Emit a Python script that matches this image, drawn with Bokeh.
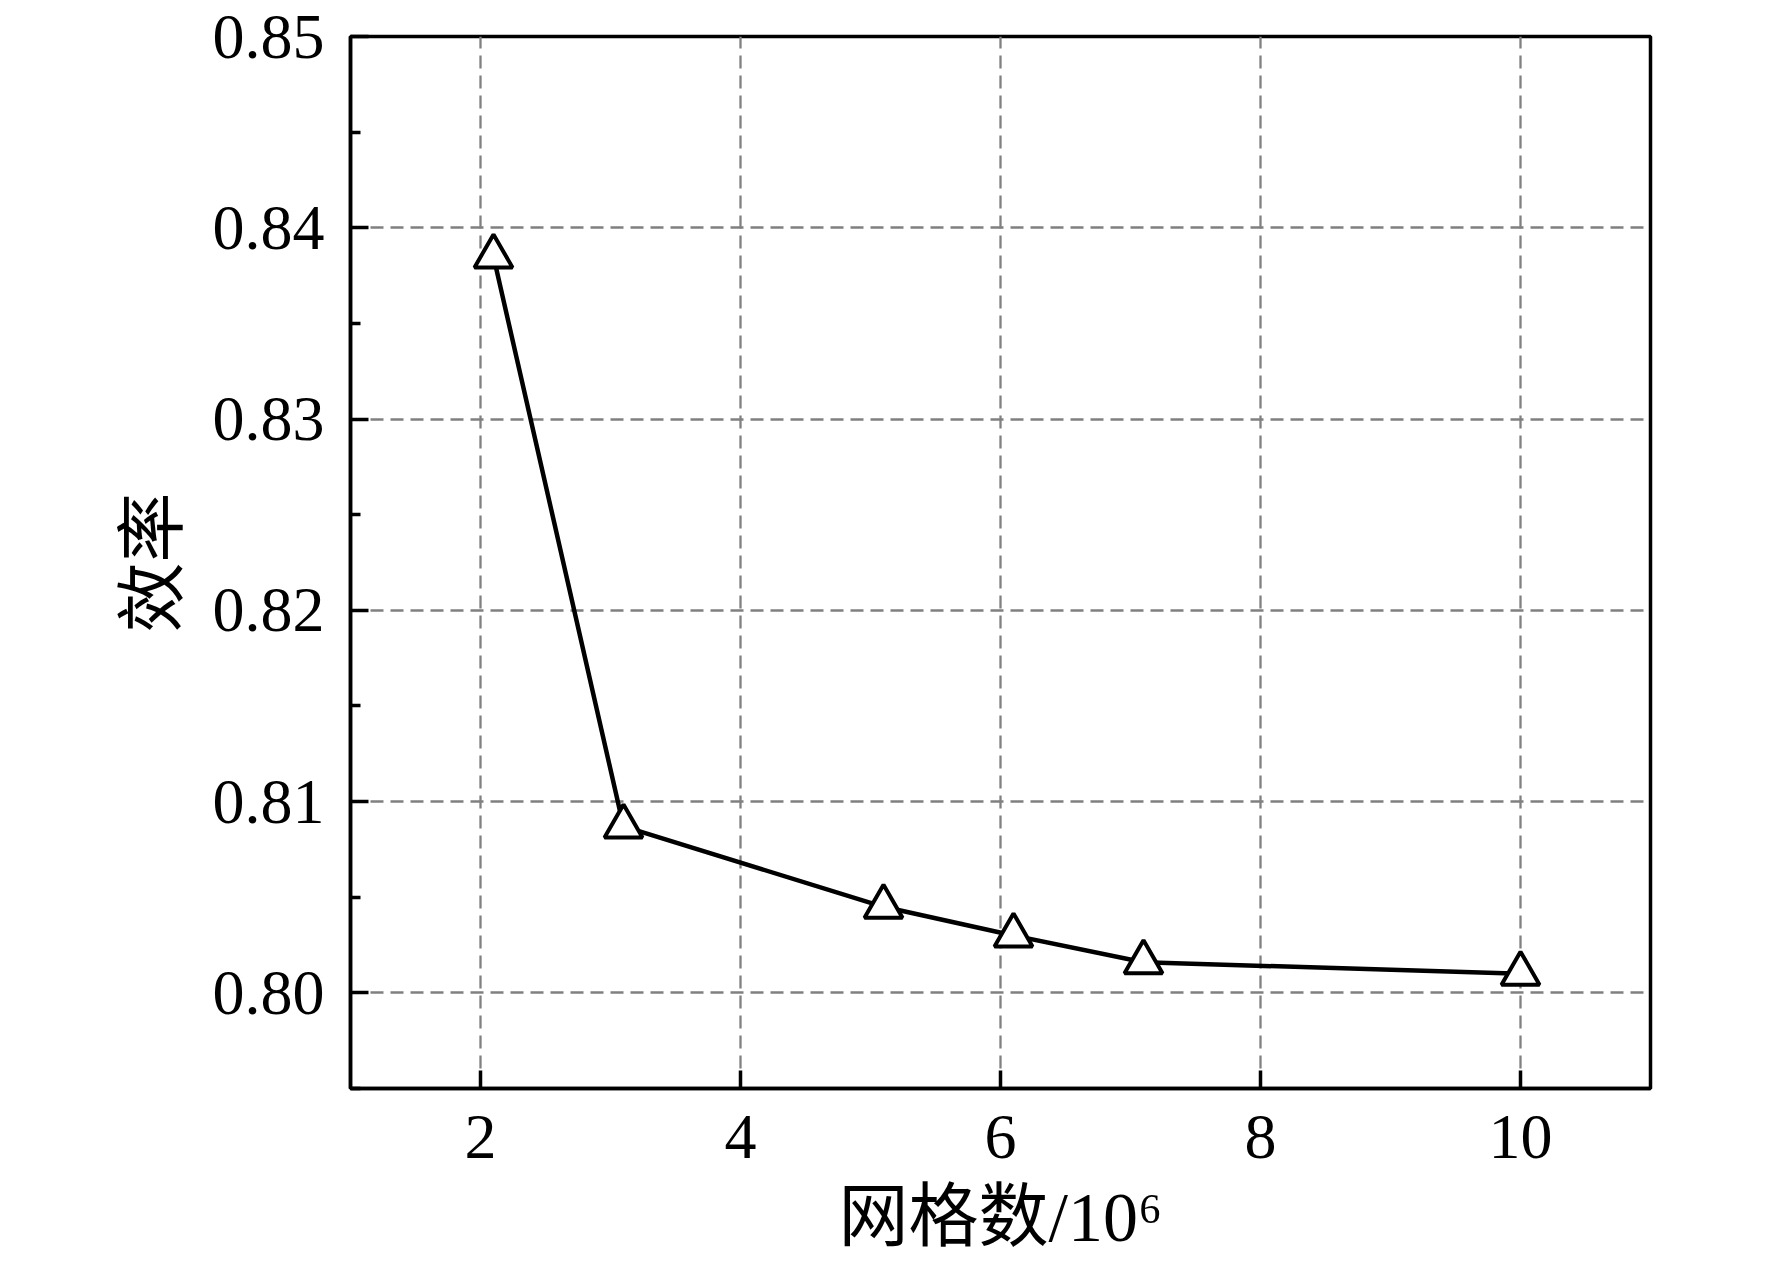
from bokeh.plotting import figure
from bokeh.models import Range1d, FixedTicker
from bokeh.embed import file_html
from bokeh.resources import INLINE

# data
grid_counts = [2.1, 3.1, 5.1, 6.1, 7.1, 10.0]
efficiency = [0.8385, 0.8087, 0.8045, 0.8030, 0.8016, 0.8010]
x_ticks = [2, 4, 6, 8, 10]
y_ticks = [0.80, 0.81, 0.82, 0.83, 0.84, 0.85]
y_minor = [0.795, 0.805, 0.815, 0.825, 0.835, 0.845]
x_label = "网格数/10⁶"
y_label = "效率"

SERIF = "'Liberation Serif', 'Noto Sans CJK SC'"

p = figure(width=1756, height=1245, output_backend="svg", toolbar_location=None,
           x_range=Range1d(1, 11), y_range=Range1d(0.795, 0.85),
           min_border_left=350, min_border_top=36, min_border_right=106, min_border_bottom=157,
           frame_width=1300, frame_height=1052)

p.outline_line_color = "black"
p.outline_line_width = 3.5
p.outline_line_alpha = 1.0

for ax in (p.xaxis[0], p.yaxis[0]):
    ax.axis_line_width = 3.5
    ax.axis_line_color = "black"
    ax.major_tick_line_width = 3.5
    ax.minor_tick_line_width = 3.5
    ax.major_tick_in = 18
    ax.major_tick_out = 0
    ax.minor_tick_in = 10
    ax.minor_tick_out = 0
    ax.major_label_text_font = SERIF
    ax.major_label_text_font_size = "64px"
    ax.major_label_text_color = "black"
    ax.axis_label_text_font = SERIF
    ax.axis_label_text_font_size = "70px"
    ax.axis_label_text_font_style = "normal"
    ax.axis_label_text_color = "black"

p.xaxis[0].ticker = FixedTicker(ticks=x_ticks)
p.yaxis[0].ticker = FixedTicker(ticks=y_ticks, minor_ticks=y_minor)
p.yaxis[0].major_label_overrides = {v: f"{v:.2f}" for v in y_ticks}
p.xaxis[0].major_label_standoff = 27
p.yaxis[0].major_label_standoff = 26
p.xaxis[0].axis_label = x_label
p.yaxis[0].axis_label = y_label
p.xaxis[0].axis_label_standoff = 18
p.yaxis[0].axis_label_standoff = 18

for g in (p.xgrid[0], p.ygrid[0]):
    g.grid_line_color = "#808080"
    g.grid_line_width = 2.3
    g.grid_line_dash = "13 7"

p.line(grid_counts, efficiency, line_color="black", line_width=4.5)
p.scatter(grid_counts, efficiency, marker="triangle", size=38,
          fill_color="white", line_color="black", line_width=4)

open("out.html", "w").write(file_html(p, INLINE))
